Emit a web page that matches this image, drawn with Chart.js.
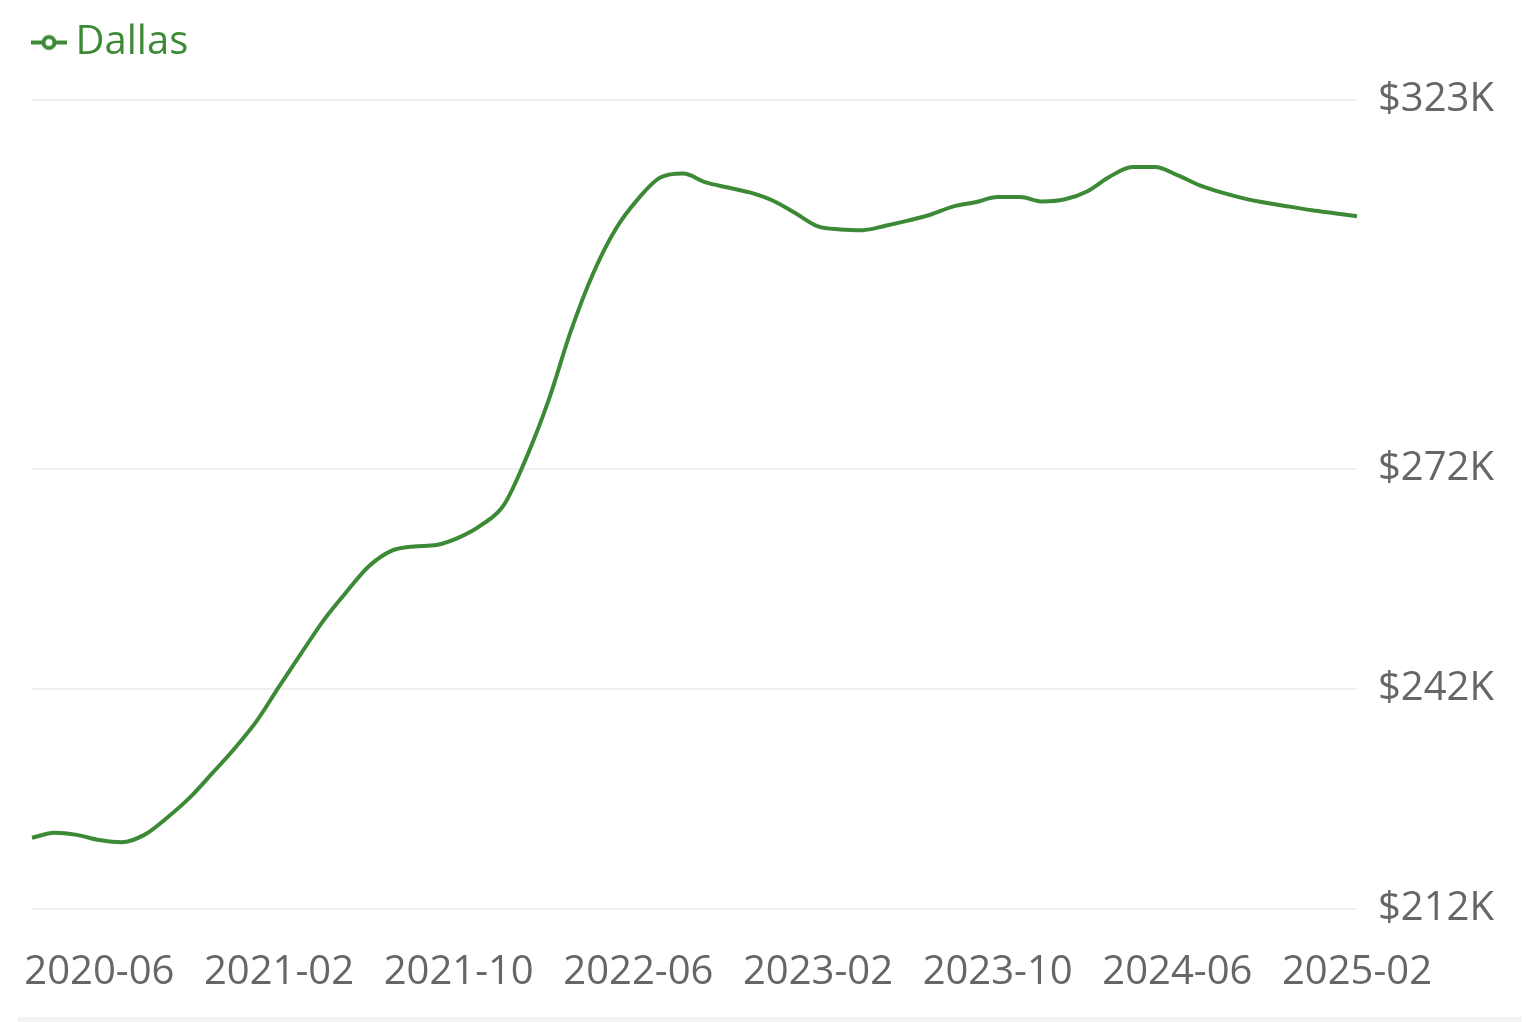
<!DOCTYPE html>
<html>
<head>
<meta charset="utf-8">
<script src="https://cdn.jsdelivr.net/npm/chart.js@4.4.1/dist/chart.umd.min.js"></script>
<style>
  html, body { margin: 0; padding: 0; background: #fff; }
  #wrap { position: absolute; left: 0; top: 0; width: 1540px; height: 1016px; }
  #strip { position: absolute; left: 18px; top: 1017px; width: 1504px; height: 5px; background: #f3f3f5; }
</style>
</head>
<body>
<div id="wrap"><canvas id="priceChart"></canvas></div>
<div id="strip"></div>
<script>
// monthly, 2020-03 .. 2025-02
const months = [];
for (let y = 2020; y <= 2025; y++) {
    for (let m = 1; m <= 12; m++) {
        if ((y === 2020 && m < 3) || (y === 2025 && m > 2)) continue;
        months.push(y + "-" + String(m).padStart(2, "0"));
    }
}
const shownLabels = ["2020-06", "2021-02", "2021-10", "2022-06", "2023-02", "2023-10", "2024-06", "2025-02"];

const dallasValues = [
    221700, 222400, 222100, 221400, 221100, 222100, 224400, 227100, 230400, 233800,
    237600, 242300, 246900, 251400, 255200, 258700, 260800, 261400, 261600, 262600,
    264300, 267000, 273400, 281300, 290800, 298700, 304700, 308800, 311700, 312200,
    311000, 310300, 309600, 308500, 306800, 305000, 304600, 304500, 305100, 305800,
    306600, 307700, 308300, 309000, 309000, 308400, 308700, 309800, 311800, 313100,
    313100, 312000, 310600, 309600, 308800, 308200, 307700, 307200, 306800, 306400
];

const yTickValues = [212000, 242000, 272000, 322300];
const yTickLabels = ["$212K", "$242K", "$272K", "$323K"];

const GREEN = "#3d8a36";
const FONT = "'Open Sans', 'Noto Sans', sans-serif";

// legend icon: short line with a hollow circle
const icon = document.createElement("canvas");
icon.width = 36; icon.height = 18;
(() => {
    const c = icon.getContext("2d");
    c.strokeStyle = GREEN;
    c.lineWidth = 4;
    c.beginPath(); c.moveTo(0, 9); c.lineTo(36, 9); c.stroke();
    c.fillStyle = "#fff";
    c.beginPath(); c.arc(18, 9, 5.5, 0, Math.PI * 2); c.fill(); c.stroke();
})();

// extra room under the legend
const legendGap = {
    id: "legendGap",
    beforeInit(chart) {
        const fit = chart.legend.fit;
        chart.legend.fit = function () {
            fit.bind(chart.legend)();
            this.height += 27;
        };
    },
};

const ctx = document.getElementById("priceChart");
new Chart(ctx.getContext("2d"), {
    type: "line",
    data: {
        labels: months,
        datasets: [{
            label: "Dallas",
            data: dallasValues,
            borderColor: GREEN,
            backgroundColor: GREEN,
            borderWidth: 4,
            pointRadius: 0,
            pointStyle: icon,
            cubicInterpolationMode: "monotone",
            fill: false,
        }]
    },
    plugins: [legendGap],
    options: {
        responsive: true,
        maintainAspectRatio: false,
        animation: false,
        layout: { padding: { left: 25, right: 0, top: 5, bottom: 0 } },
        plugins: {
            legend: {
                align: "start",
                labels: {
                    usePointStyle: true,
                    pointStyleWidth: 13,
                    padding: 17.5,
                    color: GREEN,
                    font: { family: FONT, size: 40 },
                },
            },
            tooltip: { enabled: false },
        },
        scales: {
            x: {
                grid: { display: false },
                border: { display: false },
                afterFit: (s) => { s.height = 107; },
                ticks: {
                    autoSkip: false,
                    maxRotation: 0,
                    padding: 32,
                    color: "#666",
                    font: { family: FONT, size: 40 },
                    callback: function (v) {
                        const lab = this.getLabelForValue(v);
                        return shownLabels.includes(lab) ? lab : "";
                    },
                },
            },
            y: {
                position: "right",
                min: 212000,
                max: 322300,
                afterBuildTicks: (s) => { s.ticks = yTickValues.map(v => ({ value: v })); },
                afterFit: (s) => { s.width = 183; },
                grid: { color: "#eeeff2", lineWidth: 2, drawTicks: false },
                border: { display: false },
                ticks: {
                    padding: 21,
                    color: "#666",
                    font: { family: FONT, size: 40 },
                    callback: (v) => yTickLabels[yTickValues.indexOf(v)],
                },
            },
        },
    },
});
</script>
</body>
</html>
